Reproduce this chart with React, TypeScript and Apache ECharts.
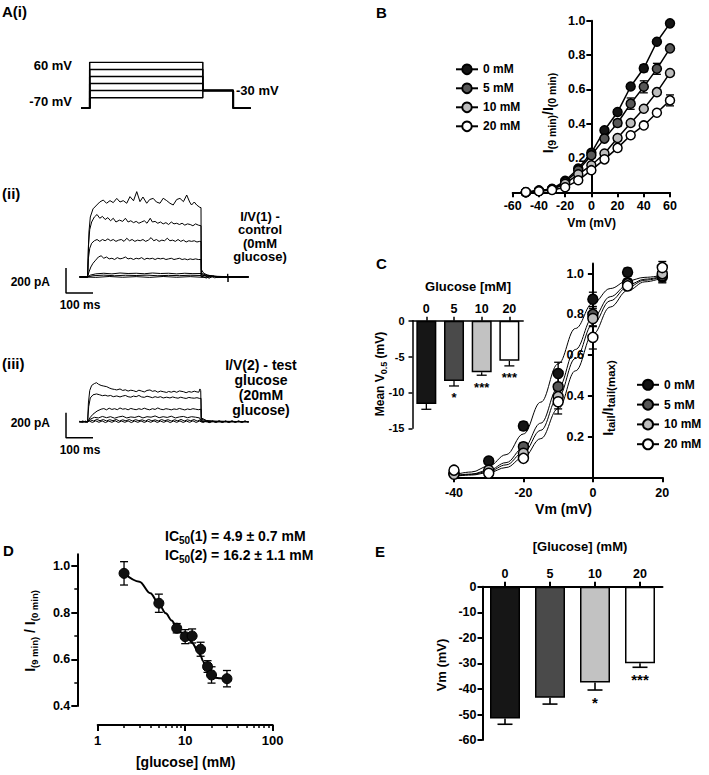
import React, { useEffect, useRef } from 'react';
import * as echarts from 'echarts';

const FONT = 'Liberation Sans, Arial, Helvetica, sans-serif';

// ---------------- Panel A(i): voltage protocol (schematic) ----------------
const protoHold = -70;
const protoLevels = [60, 40, 20, 0, -20, -40];
const protoTail = -20;
const protoTimes = [-10, 0, 130, 165, 185]; // start, step on, step off, tail end, end

// ---------------- Panel A(ii): current traces, control (ms, pA) ----------------
const traceII1 = [[-30,0],[-10,2],[0,0],[2,150],[5,360],[10,480],[20,545],[34,576],[45,600],[58,616],[70,590],[83,611],[95,595],[108,629],[120,600],[132,611],[145,590],[157,643],[170,610],[182,683],[194,603],[205,640],[219,590],[230,620],[243,629],[255,600],[268,590],[280,630],[293,611],[305,590],[317,576],[330,620],[342,629],[355,603],[367,656],[378,600],[385,576],[395,600],[404,576],[416,557],[420,555],[421,60],[430,30],[445,15],[470,5],[596,0]];
const traceII2 = [[-30,0],[0,0],[3,250],[8,380],[15,440],[25,480],[35,500],[45,470],[55,485],[65,460],[75,475],[85,450],[95,470],[105,440],[118,455],[130,445],[140,470],[150,440],[160,450],[170,435],[180,445],[190,430],[200,440],[210,450],[220,430],[232,470],[240,440],[250,445],[260,430],[270,440],[280,425],[290,435],[300,420],[310,440],[320,425],[330,430],[340,420],[350,430],[360,415],[370,425],[380,420],[390,410],[400,425],[410,415],[420,410],[421,30],[440,15],[480,5],[596,0]];
const traceII3 = [[-30,0],[0,0],[3,150],[8,230],[15,270],[25,290],[35,300],[45,285],[55,300],[65,290],[75,305],[85,290],[95,300],[105,285],[115,295],[125,300],[135,285],[145,310],[155,290],[165,300],[175,285],[185,295],[195,290],[205,300],[215,285],[225,295],[235,315],[245,290],[255,300],[265,285],[275,295],[285,290],[295,310],[305,290],[315,295],[325,285],[335,300],[345,285],[355,295],[365,280],[375,290],[385,285],[395,290],[405,280],[415,285],[420,283],[421,20],[440,10],[480,3],[596,0]];
const traceII4 = [[-30,0],[0,0],[5,40],[12,80],[20,110],[30,135],[40,160],[50,170],[60,150],[70,160],[80,145],[90,150],[100,140],[110,155],[120,145],[130,150],[140,160],[150,145],[160,150],[170,140],[180,150],[190,145],[200,155],[210,140],[220,150],[230,145],[240,150],[250,140],[260,150],[270,145],[280,150],[290,140],[300,145],[310,150],[320,140],[330,145],[340,150],[350,140],[360,145],[370,138],[380,145],[390,140],[400,145],[410,140],[420,140],[421,15],[440,8],[480,2],[596,0]];
const traceII5 = [[-30,0],[0,0],[10,15],[30,25],[60,30],[90,25],[120,32],[150,28],[180,30],[210,26],[240,32],[270,28],[300,30],[330,25],[360,30],[390,27],[420,28],[421,5],[440,-8],[455,10],[470,-6],[500,2],[596,0]];
const traceII6 = [[-30,0],[0,0],[20,10],[60,15],[100,10],[140,14],[180,12],[220,15],[260,10],[300,13],[340,11],[380,14],[420,12],[421,0],[435,12],[450,-10],[465,8],[480,-4],[596,0]];
const traceII7 = [[-30,2],[30,-3],[80,4],[130,-2],[180,3],[230,-3],[280,4],[330,-2],[380,3],[430,-3],[480,4],[518,0],[519,25],[520,-40],[521,0],[560,-2],[596,2]];

// ---------------- Panel A(iii): current traces, 20 mM glucose (ms, pA) ----------------
const traceIII1 = [[-30,0],[0,0],[3,150],[8,250],[15,290],[25,305],[33,312],[40,300],[50,290],[60,285],[71,280],[80,270],[90,262],[100,258],[108,254],[120,262],[130,250],[140,255],[150,245],[160,252],[170,248],[180,240],[190,252],[200,245],[210,238],[220,250],[231,254],[240,243],[250,248],[260,236],[270,245],[280,240],[293,234],[300,242],[310,236],[320,244],[330,235],[340,246],[355,240],[365,232],[375,241],[385,236],[395,244],[405,238],[412,236],[416,262],[419,248],[421,30],[440,10],[480,0],[596,0]];
const traceIII2 = [[-30,0],[0,0],[4,120],[10,190],[20,215],[33,222],[45,215],[55,208],[65,212],[75,205],[85,210],[95,200],[108,206],[120,198],[130,205],[140,210],[150,200],[160,196],[170,205],[180,200],[190,210],[200,198],[210,195],[220,204],[231,198],[240,192],[250,200],[260,194],[270,200],[280,190],[293,196],[305,190],[315,198],[325,192],[335,188],[345,196],[355,190],[365,186],[375,194],[385,190],[395,188],[405,192],[415,186],[420,187],[421,20],[440,6],[596,0]];
const traceIII3 = [[-30,0],[0,0],[8,30],[20,60],[35,85],[50,100],[60,105],[70,95],[80,108],[90,98],[100,104],[110,96],[120,110],[130,100],[140,104],[150,95],[160,106],[170,100],[180,96],[190,104],[200,98],[210,108],[220,100],[230,95],[240,104],[250,98],[260,110],[270,100],[280,96],[290,104],[300,100],[310,95],[320,102],[330,98],[340,106],[350,100],[360,94],[370,102],[380,97],[390,104],[400,100],[410,96],[420,100],[421,10],[440,0],[596,0]];
const traceIII4 = [[-30,0],[0,0],[10,20],[25,35],[40,30],[55,42],[70,32],[85,40],[100,28],[115,38],[130,44],[145,30],[160,38],[175,34],[190,44],[205,30],[220,40],[235,36],[250,46],[265,32],[280,40],[295,34],[310,44],[325,30],[340,38],[355,42],[370,32],[385,40],[400,36],[415,30],[421,0],[596,0]];
const traceIII5 = [[-30,4],[-20,-6],[-8,5],[0,-4],[10,14],[22,6],[34,18],[46,8],[58,17],[70,6],[82,16],[94,8],[106,18],[118,5],[130,15],[142,7],[154,17],[166,6],[178,16],[190,8],[202,15],[214,5],[226,18],[238,7],[250,15],[262,6],[274,17],[286,8],[298,16],[310,5],[322,15],[334,7],[346,18],[358,6],[370,15],[382,8],[394,17],[406,5],[418,15],[428,-5],[440,6],[452,-7],[464,5],[476,-6],[488,7],[500,-5],[512,6],[524,-7],[536,6],[548,-4],[560,7],[572,-6],[584,5],[596,-4]];
const traceIII6 = [[-30,-5],[-18,6],[-6,-5],[6,5],[18,-6],[30,7],[42,-5],[54,6],[66,-7],[78,5],[90,-5],[102,7],[114,-6],[126,5],[138,-5],[150,6],[162,-7],[174,5],[186,-5],[198,6],[210,-6],[222,5],[234,-5],[246,7],[258,-6],[270,5],[282,-5],[294,6],[306,-7],[318,5],[330,-5],[342,6],[354,-6],[366,5],[378,-5],[390,7],[402,-6],[414,5],[426,-5],[438,6],[450,-7],[462,5],[474,-5],[486,6],[498,-6],[510,5],[522,-5],[534,7],[546,-6],[558,5],[570,-5],[582,6],[596,-4]];
const scaleBarMs = 100;
const scaleBarPA = 200;

// ---------------- Panel B: I/V relationships ----------------
const NAMES = ['0 mM', '5 mM', '10 mM', '20 mM'];
const FILLS = ['#141414', '#575757', '#bdbdbd', '#ffffff'];
const bVm = [-50, -40, -30, -20, -10, 0, 10, 20, 30, 40, 50, 60];
const b0 = [0.0, 0.01, 0.02, 0.067, 0.139, 0.23, 0.362, 0.468, 0.617, 0.723, 0.878, 0.985];
const b5 = [0.0, 0.01, 0.018, 0.058, 0.129, 0.216, 0.313, 0.404, 0.517, 0.615, 0.72, 0.839];
const b10 = [0.0, 0.008, 0.016, 0.05, 0.105, 0.158, 0.226, 0.317, 0.404, 0.487, 0.584, 0.696];
const b20 = [0.002, 0.006, 0.014, 0.029, 0.07, 0.129, 0.192, 0.259, 0.333, 0.39, 0.464, 0.536];
const b0Err = [0, 0, 0, 0, 0.01, 0.015, 0.01, 0.01, 0.012, 0.02, 0.01, 0.01];
const b5Err = [0, 0, 0, 0, 0.01, 0.015, 0.01, 0.02, 0.033, 0.035, 0.032, 0.01];
const b10Err = [0, 0, 0, 0, 0.01, 0.01, 0.01, 0.01, 0.01, 0.01, 0.01, 0.01];
const b20Err = [0, 0, 0, 0, 0.01, 0.01, 0.01, 0.01, 0.01, 0.01, 0.015, 0.032];

// ---------------- Panel C: activation curves ----------------
const cVm = [-40, -30, -20, -10, 0, 10, 20];
const c0 = [0.02, 0.08, 0.252, 0.51, 0.874, 1.007, 0.985];
const c5 = [0.02, 0.03, 0.15, 0.445, 0.8, 0.955, 0.99];
const c10 = [0.015, 0.035, 0.118, 0.396, 0.78, 0.95, 1.0];
const c20 = [0.035, 0.02, 0.093, 0.371, 0.687, 0.94, 1.03];
const c0Err = [0.01, 0.01, 0.02, 0.055, 0.035, 0.02, 0.03];
const c5Err = [0.01, 0.01, 0.02, 0.05, 0.03, 0.02, 0.03];
const c10Err = [0.01, 0.01, 0.02, 0.06, 0.04, 0.02, 0.03];
const c20Err = [0.01, 0.01, 0.015, 0.06, 0.057, 0.02, 0.03];
const cFitVm = [-40, -35, -30, -25, -20, -15, -10, -5, 0, 5, 10, 15, 20];
const cFit0 = [0.012, 0.026, 0.055, 0.111, 0.213, 0.369, 0.557, 0.731, 0.855, 0.927, 0.965, 0.982, 0.992];
const cFit5 = [0.008, 0.016, 0.035, 0.072, 0.144, 0.266, 0.439, 0.628, 0.784, 0.887, 0.944, 0.973, 0.988];
const cFit10 = [0.006, 0.014, 0.029, 0.061, 0.122, 0.231, 0.394, 0.584, 0.752, 0.867, 0.934, 0.968, 0.985];
const cFit20 = [0.005, 0.011, 0.023, 0.048, 0.098, 0.19, 0.337, 0.523, 0.703, 0.836, 0.917, 0.96, 0.98];

// Inset: mean V0.5
const insetCats = ['0', '5', '10', '20'];
const insetVals = [-11.6, -8.4, -7.2, -5.6];
const insetErr = [0.75, 0.7, 0.4, 0.7];
const insetSig = ['', '*', '***', '***'];
const BAR_FILLS = ['#161616', '#4a4a4a', '#c2c2c2', '#ffffff'];

// ---------------- Panel D: concentration response ----------------
const dConc = [2, 5, 8, 10, 12, 15, 18, 20, 30];
const dVals = [0.968, 0.84, 0.733, 0.697, 0.7, 0.643, 0.569, 0.533, 0.517];
const dErr = [0.05, 0.039, 0.02, 0.03, 0.03, 0.03, 0.025, 0.035, 0.035];
const dFitConc = [2, 3, 4, 5, 6, 7, 8, 9, 10, 11, 12, 14, 15, 16, 17, 18, 19, 20, 22, 25, 30];
const dFitVals = [0.968, 0.932, 0.883, 0.837, 0.797, 0.766, 0.738, 0.716, 0.7, 0.686, 0.67, 0.635, 0.615, 0.592, 0.568, 0.549, 0.535, 0.527, 0.521, 0.519, 0.517];
const dMinorTicks = [2, 3, 4, 5, 6, 7, 8, 9, 20, 30, 40, 50, 60, 70, 80, 90];

// ---------------- Panel E: membrane potential ----------------
const eCats = ['0', '5', '10', '20'];
const eVals = [-51.5, -43.4, -37.5, -29.9];
const eErr = [2.3, 2.5, 2.9, 1.6];
const eSig = ['', '', '*', '***'];

// ---------------- helpers ----------------
const BLACK = '#000';
const axLine = (w = 2, onZero = false) => ({ show: true, onZero, lineStyle: { color: BLACK, width: w } });
const axTick = (len = 5, w = 2, extra: any = {}) => ({ show: true, length: len, lineStyle: { color: BLACK, width: w }, ...extra });
const axLabel = (size = 12.5, margin = 7, extra: any = {}) => ({ color: BLACK, fontWeight: 'bold', fontSize: size, fontFamily: FONT, margin, ...extra });
const noSplit = { show: false };
const hiddenAxis = (gridIndex: number, min: number, max: number) => ({ gridIndex, type: 'value', min, max, show: false });

function errSeries(xi: number, yi: number, data: number[][], cap: number, both: boolean, sig?: string[], sigSize = 14, sigOff = 12, z = 2, lw = 1.3) {
  return {
    type: 'custom', xAxisIndex: xi, yAxisIndex: yi, data, z, silent: true,
    renderItem: (params: any, api: any) => {
      const x = api.value(0), y = api.value(1), e = api.value(2);
      const st = { stroke: BLACK, lineWidth: lw };
      const lo = api.coord([x, y - e]);
      const hi = api.coord([x, both ? y + e : y]);
      const children: any[] = [];
      if (e > 0) {
        children.push({ type: 'line', shape: { x1: hi[0], y1: hi[1], x2: lo[0], y2: lo[1] }, style: st });
        children.push({ type: 'line', shape: { x1: lo[0] - cap / 2, y1: lo[1], x2: lo[0] + cap / 2, y2: lo[1] }, style: st });
        if (both) children.push({ type: 'line', shape: { x1: hi[0] - cap / 2, y1: hi[1], x2: hi[0] + cap / 2, y2: hi[1] }, style: st });
      }
      const s = sig ? sig[params.dataIndex] : '';
      if (s) {
        children.push({ type: 'text', x: lo[0], y: lo[1] + sigOff, style: { text: s, fill: BLACK, fontSize: sigSize, fontWeight: 'bold', fontFamily: FONT, align: 'center', verticalAlign: 'middle' } });
      }
      return { type: 'group', children };
    },
  };
}

function txt(text: string, x: number, y: number, size: number, o: any = {}) {
  return {
    type: 'text', x, y, z: 50, rotation: o.rot || 0, silent: true,
    style: {
      text, fill: BLACK, fontSize: size, fontWeight: 'bold', fontFamily: FONT,
      align: o.align || 'left', verticalAlign: 'middle', lineHeight: o.lh, rich: o.rich,
    },
  };
}

const rich = (main: number, sub: number) => ({
  b: { fontSize: main, fontWeight: 'bold', fontFamily: FONT, fill: BLACK, lineHeight: main + 4 },
  s: { fontSize: sub, fontWeight: 'bold', fontFamily: FONT, fill: BLACK, lineHeight: sub, verticalAlign: 'bottom' },
});

// grid geometry (pixels)
const G = {
  proto: { left: 81, top: 62.3, width: 169.7, height: 46 },
  ii: { left: 66, top: 187, width: 183.6, height: 110 },
  iii: { left: 66, top: 331.7, width: 183.6, height: 110 },
  b: { left: 512.7, top: 20.8, width: 157.3, height: 171.5 },
  c: { left: 454, top: 263.5, width: 208.3, height: 213.8 },
  inset: { left: 412.5, top: 320.7, width: 110.7, height: 107.6 },
  d: { left: 97.7, top: 554.2, width: 175, height: 151.8 },
  e: { left: 482.5, top: 586.8, width: 180, height: 153.3 },
};
// y axes of B and C sit at Vm = 0 mV
const bZeroOffset = -G.b.width * (60 / 120);
const cZeroOffset = -G.c.width * (40 / 60);

function buildOption() {
  const series: any[] = [];

  // A(i) protocol
  protoLevels.forEach((L) => {
    const [t0, tOn, tOff, tTail, tEnd] = protoTimes;
    series.push({
      type: 'line', xAxisIndex: 0, yAxisIndex: 0, showSymbol: false, symbol: 'none', silent: true,
      lineStyle: { color: BLACK, width: 1.5 },
      data: [[t0, protoHold], [tOn, protoHold], [tOn, L], [tOff, L], [tOff, protoTail], [tTail, protoTail], [tTail, protoHold], [tEnd, protoHold]],
    });
  });

  // A(ii), A(iii) traces
  const traceSeries = (data: number[][], idx: number) => ({
    type: 'line', xAxisIndex: idx, yAxisIndex: idx, symbol: 'none', silent: true,
    lineStyle: { color: BLACK, width: 1 }, data,
  });
  [traceII7, traceII6, traceII5, traceII4, traceII3, traceII2, traceII1].forEach((d) => series.push(traceSeries(d, 1)));
  [traceIII6, traceIII5, traceIII4, traceIII3, traceIII2, traceIII1].forEach((d) => series.push(traceSeries(d, 2)));
  const sbT = -80, sbI = -128;
  [1, 2].forEach((idx) => series.push({
    type: 'line', xAxisIndex: idx, yAxisIndex: idx, symbol: 'none', silent: true,
    lineStyle: { color: BLACK, width: 1.5 },
    data: [[sbT, sbI + scaleBarPA], [sbT, sbI], [sbT + scaleBarMs, sbI]],
  }));

  // B
  const bSets = [b0, b5, b10, b20];
  const bErrs = [b0Err, b5Err, b10Err, b20Err];
  bSets.forEach((vals, i) => {
    series.push(errSeries(3, 3, bVm.map((v, j) => [v, vals[j], bErrs[i][j]]), 8, true, undefined, 14, 12, 2));
  });
  bSets.forEach((vals, i) => {
    series.push({
      name: NAMES[i], type: 'line', xAxisIndex: 3, yAxisIndex: 3,
      symbol: 'circle', symbolSize: 9, showSymbol: true, z: 3,
      itemStyle: { color: FILLS[i], borderColor: BLACK, borderWidth: 1.5 },
      lineStyle: { color: BLACK, width: 1.5 },
      data: bVm.map((v, j) => [v, vals[j]]),
    });
  });

  // C
  const cFits = [cFit0, cFit5, cFit10, cFit20];
  cFits.forEach((vals, i) => series.push({
    name: 'fit ' + NAMES[i], type: 'line', xAxisIndex: 4, yAxisIndex: 4, symbol: 'none', smooth: 0.4, smoothMonotone: 'x',
    silent: true, z: 2, lineStyle: { color: BLACK, width: 1 },
    data: cFitVm.map((v, j) => [v, vals[j]]),
  }));
  const cSets = [c0, c5, c10, c20];
  const cErrs = [c0Err, c5Err, c10Err, c20Err];
  cSets.forEach((vals, i) => series.push(errSeries(4, 4, cVm.map((v, j) => [v, vals[j], cErrs[i][j]]), 8, true)));
  cSets.forEach((vals, i) => series.push({
    name: NAMES[i], type: 'scatter', xAxisIndex: 4, yAxisIndex: 4, symbol: 'circle', symbolSize: 10, z: 4,
    itemStyle: { color: FILLS[i], borderColor: BLACK, borderWidth: 1.5, opacity: 1 },
    data: cVm.map((v, j) => [v, vals[j]]),
  }));

  // Inset
  series.push({
    type: 'bar', xAxisIndex: 5, yAxisIndex: 5, barWidth: 20, silent: true, z: 2,
    data: insetVals.map((v, i) => ({ value: v, itemStyle: { color: BAR_FILLS[i], borderColor: BLACK, borderWidth: 1.5 } })),
  });
  series.push(errSeries(5, 5, insetVals.map((v, i) => [i, v, insetErr[i]]), 10, false, insetSig, 13, 12, 3, 1.3));

  // D
  series.push({
    type: 'line', xAxisIndex: 6, yAxisIndex: 6, symbol: 'none', smooth: 0.35, smoothMonotone: 'x', silent: true, z: 2,
    lineStyle: { color: BLACK, width: 2 }, data: dFitConc.map((c, j) => [c, dFitVals[j]]),
  });
  series.push(errSeries(6, 6, dConc.map((c, j) => [c, dVals[j], dErr[j]]), 8, true, undefined, 14, 12, 2, 1.3));
  series.push({
    type: 'scatter', xAxisIndex: 6, yAxisIndex: 6, symbol: 'circle', symbolSize: 10, z: 4, silent: true,
    itemStyle: { color: '#111111', borderColor: BLACK, borderWidth: 1, opacity: 1 },
    data: dConc.map((c, j) => [c, dVals[j]]),
  });

  // E
  series.push({
    type: 'bar', xAxisIndex: 8, yAxisIndex: 8, barWidth: 30, silent: true, z: 2,
    data: eVals.map((v, i) => ({ value: v, itemStyle: { color: BAR_FILLS[i], borderColor: BLACK, borderWidth: 1.5 } })),
  });
  series.push(errSeries(8, 8, eVals.map((v, i) => [i, v, eErr[i]]), 15, false, eSig, 15, 12.5, 3, 1.6));

  const legendBase = {
    orient: 'vertical', selectedMode: false, padding: 0, data: NAMES,
    textStyle: { color: BLACK, fontWeight: 'bold', fontSize: 12, fontFamily: FONT, lineHeight: 12 },
  };

  const grid = (g: any) => ({ ...g, outerBoundsMode: 'none', containLabel: false });

  return {
    animation: false,
    backgroundColor: '#ffffff',
    textStyle: { fontFamily: FONT },
    grid: [grid(G.proto), grid(G.ii), grid(G.iii), grid(G.b), grid(G.c), grid(G.inset), grid(G.d), grid(G.e)],
    xAxis: [
      hiddenAxis(0, -10, 185),
      hiddenAxis(1, -80, 600),
      hiddenAxis(2, -80, 600),
      { gridIndex: 3, type: 'value', min: -60, max: 60, interval: 20, position: 'bottom', axisLine: axLine(), axisTick: axTick(5), axisLabel: axLabel(12.5, 7), splitLine: noSplit },
      { gridIndex: 4, type: 'value', min: -40, max: 20, interval: 20, position: 'bottom', axisLine: axLine(), axisTick: axTick(5), axisLabel: axLabel(12.5, 9), splitLine: noSplit },
      { gridIndex: 5, type: 'category', data: insetCats, position: 'top', axisLine: axLine(1.5), axisTick: axTick(4, 1.5, { alignWithLabel: true }), axisLabel: axLabel(12.5, 5), splitLine: noSplit },
      { gridIndex: 6, type: 'log', logBase: 10, min: 1, max: 100, position: 'bottom', offset: 19, axisLine: axLine(2), axisTick: axTick(6), axisLabel: axLabel(13, 9), splitLine: noSplit, minorTick: { show: false } },
      { gridIndex: 6, type: 'value', min: 0, max: 2, position: 'bottom', offset: 19, axisLine: { show: false, onZero: false }, axisLabel: { show: false }, axisTick: axTick(3, 1.5, { customValues: dMinorTicks.map((c) => Math.log10(c)) }), splitLine: noSplit },
      { gridIndex: 7, type: 'category', data: eCats, position: 'top', axisLine: axLine(2), axisTick: axTick(5, 2, { alignWithLabel: true }), axisLabel: axLabel(12.5, 6), splitLine: noSplit },
    ],
    yAxis: [
      hiddenAxis(0, -70, 60),
      hiddenAxis(1, -160, 720),
      hiddenAxis(2, -160, 720),
      { gridIndex: 3, type: 'value', min: 0, max: 1, interval: 0.2, position: 'left', offset: bZeroOffset, axisLine: axLine(), axisTick: axTick(5), axisLabel: axLabel(12.5, 6, { customValues: [0.2, 0.4, 0.6, 0.8, 1.0], formatter: (v: number) => v.toFixed(1) }), splitLine: noSplit },
      { gridIndex: 4, type: 'value', min: 0, max: 1.05, position: 'left', offset: cZeroOffset, axisLine: axLine(), axisTick: axTick(5, 2, { customValues: [0, 0.2, 0.4, 0.6, 0.8, 1.0] }), axisLabel: axLabel(12.5, 9, { customValues: [0.2, 0.4, 0.6, 0.8, 1.0], formatter: (v: number) => v.toFixed(1) }), splitLine: noSplit },
      { gridIndex: 5, type: 'value', min: -15, max: 0, interval: 5, axisLine: axLine(1.5), axisTick: axTick(4, 1.5), axisLabel: axLabel(11, 8), splitLine: noSplit },
      { gridIndex: 6, type: 'value', min: 0.4, max: 1.05, position: 'left', offset: 20.4, axisLine: axLine(2), axisTick: axTick(6, 2, { customValues: [0.4, 0.6, 0.8, 1.0] }), axisLabel: axLabel(12.5, 7, { customValues: [0.4, 0.6, 0.8, 1.0], formatter: (v: number) => v.toFixed(1) }), splitLine: noSplit },
      { gridIndex: 6, type: 'value', min: 0.4, max: 1.05, position: 'left', offset: 20.4, axisLine: { show: false, onZero: false }, axisLabel: { show: false }, axisTick: axTick(3, 1.5, { customValues: [0.5, 0.7, 0.9] }), splitLine: noSplit },
      { gridIndex: 7, type: 'value', min: -60, max: 0, interval: 10, axisLine: axLine(2), axisTick: axTick(5), axisLabel: axLabel(12.5, 6), splitLine: noSplit },
    ],
    legend: [
      { ...legendBase, left: 455, top: 63.3, itemWidth: 22, itemHeight: 12, itemGap: 7 },
      { ...legendBase, left: 636, top: 378.8, itemWidth: 22, itemHeight: 12.5, itemGap: 7.8 },
    ],
    series,
    graphic: {
      elements: [
        txt('A(i)', 2, 11, 15),
        txt('60 mV', 72, 65, 13, { align: 'right' }),
        txt('-70 mV', 72, 101, 13, { align: 'right' }),
        txt('-30 mV', 236, 90, 13),
        txt('(ii)', 2, 193, 15),
        txt('I/V(1) -\ncontrol\n(0mM\nglucose)', 260, 236.7, 13, { align: 'center', lh: 13.5 }),
        txt('200 pA', 50, 282, 12, { align: 'right' }),
        txt('100 ms', 80, 305, 12, { align: 'center' }),
        txt('(iii)', 2, 363, 15),
        txt('I/V(2) - test\nglucose\n(20mM\nglucose)', 261, 387.5, 14, { align: 'center', lh: 15 }),
        txt('200 pA', 50, 423, 12, { align: 'right' }),
        txt('100 ms', 80, 450, 12, { align: 'center' }),
        txt('B', 376, 12, 15),
        txt('{b|I}{s|(9 min)}{b|/I}{s|(0 min)}', 548, 113, 14, { align: 'center', rot: Math.PI / 2, rich: rich(14, 10.5) }),
        txt('Vm (mV)', 591.7, 223, 12, { align: 'center' }),
        txt('C', 376, 263, 15),
        txt('Glucose [mM]', 468, 286, 13, { align: 'center' }),
        txt('{b|Mean V}{s|0.5}{b| (mV)}', 380, 374, 12, { align: 'center', rot: Math.PI / 2, rich: rich(12, 9) }),
        txt('{b|I}{s|tail}{b|/I}{s|tail(max)}', 608, 398, 14, { align: 'center', rot: Math.PI / 2, rich: rich(14, 11.5) }),
        txt('Vm (mV)', 563.5, 509.3, 14, { align: 'center' }),
        txt('D', 3, 550, 15),
        txt('IC{s|50}(1) = 4.9 ± 0.7 mM', 165, 536, 14, { lh: 18, rich: { s: rich(14, 10).s } }),
        txt('IC{s|50}(2) = 16.2 ± 1.1 mM', 165, 555, 14, { lh: 18, rich: { s: rich(14, 10).s } }),
        txt('{b|I}{s|(9 min)}{b| / I}{s|(0 min)}', 30, 631, 14, { align: 'center', rot: Math.PI / 2, rich: rich(14, 9.5) }),
        txt('[glucose] (mM)', 185.7, 761.7, 14, { align: 'center' }),
        txt('E', 375, 551, 15),
        txt('[Glucose] (mM)', 580, 546, 13, { align: 'center' }),
        txt('Vm (mV)', 441, 665, 13, { align: 'center', rot: Math.PI / 2 }),
      ],
    },
  };
}

export default function App() {
  const ref = useRef<HTMLDivElement>(null);
  useEffect(() => {
    if (!ref.current) return;
    const chart = echarts.init(ref.current, null, { renderer: 'svg' });
    chart.setOption(buildOption() as any);
    return () => chart.dispose();
  }, []);
  return (
    <div
      ref={ref}
      style={{ position: 'absolute', left: 0, top: 0, width: 709, height: 775, background: '#fff' }}
    />
  );
}
